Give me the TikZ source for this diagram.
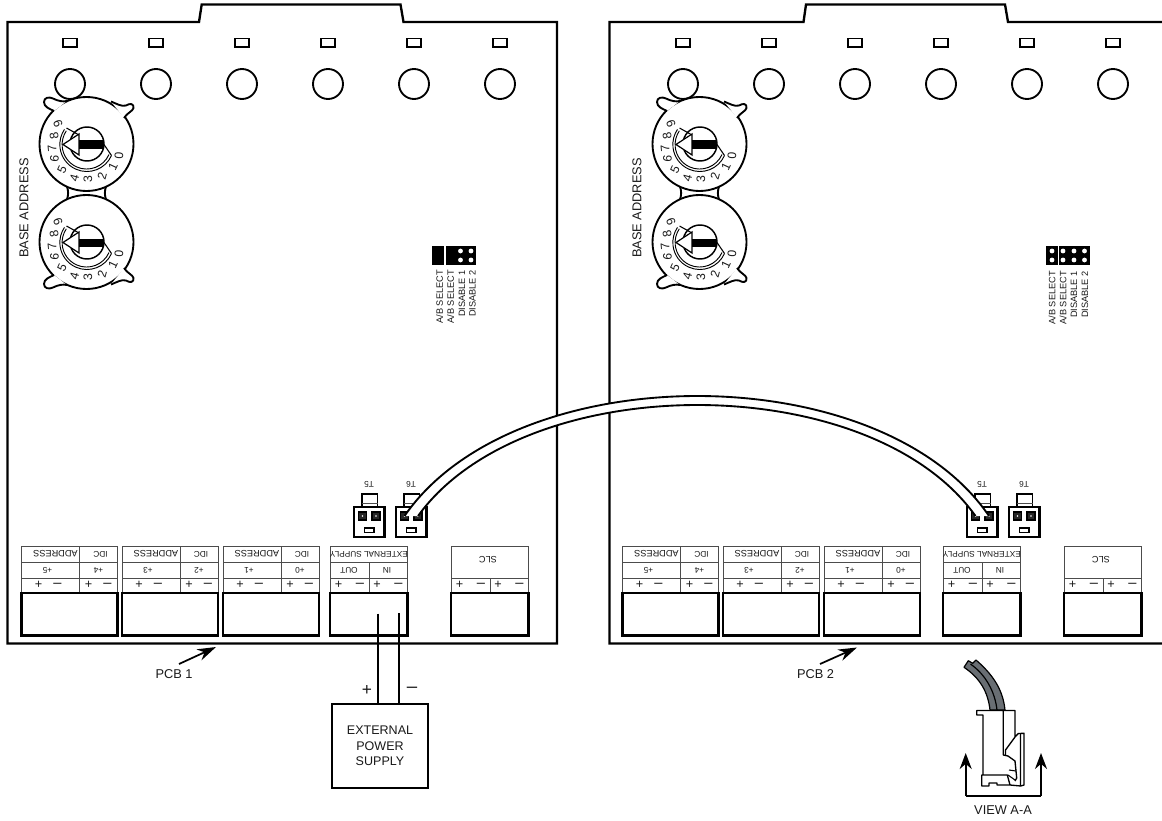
\documentclass[tikz,border=0pt]{standalone}
\usepackage{fontspec}
\setmainfont{Liberation Sans}
\usetikzlibrary{arrows.meta}
\definecolor{wiregray}{RGB}{105,110,115}
\definecolor{inkc}{RGB}{25,25,25}
\tikzset{
 heavy/.style={draw=black,line width=1.75pt,line join=miter},
 med/.style={draw=black,line width=1.4pt},
 thinl/.style={draw=black!70,line width=.65pt},
 txt/.style={inner sep=0pt,text=inkc,align=center},
 big/.style={txt,font=\fontsize{9.6}{12}\selectfont},
 addr/.style={txt,font=\fontsize{6.9}{8}\selectfont},
 smallt/.style={txt,font=\fontsize{6.2}{7}\selectfont},
 sign/.style={txt,font=\fontsize{9.5}{10}\selectfont},
 minussign/.style={txt,font=\fontsize{11}{12}\selectfont},
 jlabel/.style={txt,font=\fontsize{6.9}{8}\selectfont,rotate=90,anchor=east},
 digit/.style={txt,font=\fontsize{9.2}{10}\selectfont},
 pin/.style={draw=black,line width=.9pt,fill=black!85,minimum size=6pt,inner sep=0pt},
 jdot/.style={circle,fill=white,inner sep=0pt,minimum size=3.6pt},
 tipup/.style={-{Stealth[length=12pt,width=9pt]}},
}
% terminal block: name, x, top labels
\newcommand{\tblock}[6]{%
 \begin{scope}[shift={(#2,0)}]
 \draw[thinl] (0,546) rectangle (96,593);
 \draw[thinl] (0,562) -- (96,562) (0,578) -- (96,578);
 \draw[thinl] (58,546) -- (58,593);
 \node[addr] (#1a) at (34,554) {\rotatebox{180}{#3}};
 \node[smallt] (#1b) at (79,554) {\rotatebox{180}{#4}};
 \node[smallt] (#1c) at (26,570) {\rotatebox{180}{#5}};
 \node[smallt] (#1d) at (77,570) {\rotatebox{180}{#6}};
 \node[sign] (#1e) at (17,585) {+};
 \node[minussign] (#1f) at (36,585) {–};
 \node[sign] (#1g) at (67,585) {+};
 \node[minussign] (#1h) at (86,585) {–};
 \draw[heavy] (0,593) rectangle (96,635.5);
 \end{scope}}
\newcommand{\signrow}[1]{%
 \node[sign] (#1e) at (8.5,585) {+};
 \node[minussign] (#1f) at (30,585) {–};
 \node[sign] (#1g) at (47,585) {+};
 \node[minussign] (#1h) at (68.5,585) {–};
 \draw[heavy] (0,593) rectangle (77.5,635.5);}
% dial: name, dy
\newcommand{\dialface}[2]{%
 \begin{scope}[shift={(0,#2)}]
 \draw[med,line width=1.1pt,fill=white] (87,144) circle[radius=17];
 \draw[draw=black,line width=.7pt] (111.5,155.5) arc[start angle=24,end angle=214,radius=27];
 \draw[draw=black,line width=.7pt] (109,154.5) arc[start angle=24,end angle=214,radius=24.5];
 \draw[draw=black,line width=.8pt] (66.5,128) -- (79,135) (104,144.5) -- (111.5,155.5);
 \draw[draw=black,line width=.9pt,fill=white] (63,144.5) -- (79,134) -- (79,155) -- cycle;
 \fill[black] (79,140.5) rectangle (104,149);
 \foreach \d/\x/\y/\r in {9/58/124/110,8/54/136/100,7/52/148/95,6/54.5/159/85,5/62/170/65,4/74.5/178/75,3/88/179/90,2/102/176/75,1/113/167/65,0/119/156/85}{
  \node[digit,rotate=\r] (#1n\d) at (\x,\y) {\d};
 }
 \end{scope}}
\newcommand{\earpath}{%
 \draw[med,fill=white,line join=round] (54,111) .. controls (49,108.5) and (44,107) .. (44,102) .. controls (44,97.5) and (49,96.5) .. (53,98.5) .. controls (58,101) and (63,102) .. (67,101)
 (111,101.5) .. controls (116,103.5) and (122,107) .. (126,105.5) .. controls (130,103) and (134,103.5) .. (133.5,108) .. controls (133,111) and (127,113) .. (124,118);}
\newcommand{\board}[3]{% prefix, block offset, parts offset
 \tblock{#1bk}{#2+21.5}{ADDRESS}{IDC}{+5}{+4}
 \tblock{#1bl}{#2+122}{ADDRESS}{IDC}{+3}{+2}
 \tblock{#1bm}{#2+223}{ADDRESS}{IDC}{+1}{+0}
 \begin{scope}[shift={(#3,0)}]
  \foreach \x/\i in {70/a,156/b,242/c,328/d,414/e,500/f}{
   \draw[med] (\x-7,38.5) rectangle (\x+7,47);
   \draw[med] (\x,84) circle[radius=15];
  }
  % dials
  \draw[med,fill=white] (86.5,144) circle[radius=47];
  \draw[med,fill=white] (86.5,242) circle[radius=47];
  \earpath
  \begin{scope}[shift={(0,386)},yscale=-1]\earpath\end{scope}
  \draw[med] (67,186.5) .. controls (68.5,191) and (68.5,195) .. (67,199.5) (106,186.5) .. controls (104.5,191) and (104.5,195) .. (106,199.5);
  \dialface{#1up}{0}
  \dialface{#1lo}{98}
  \node[big,rotate=90] (#1base) at (24,208) {BASE ADDRESS};
  % T5, T6
  \foreach \x/\n in {354/5,396/6}{
   \draw[med,line width=1.2pt] (\x+8,494) rectangle (\x+23.5,507);
   \draw[thinl] (\x+8,503.5) -- (\x+23.5,503.5);
   \draw[heavy,fill=white] (\x,507) rectangle (\x+30.5,537);
   \draw[draw=black,line width=.8pt] (\x+10.5,528) rectangle (\x+20,532.5);
   \node[smallt] (#1t\n) at (\x+15,484) {\rotatebox{180}{T\n}};
   \node[pin] (#1t\n a) at (\x+8.5,516) {};
   \node[pin] (#1t\n b) at (\x+22,516) {};
   \node[circle,fill=white,inner sep=0pt,minimum size=1.4pt] (#1t\n c) at (\x+8.5,516) {};
   \node[circle,fill=white,inner sep=0pt,minimum size=1.4pt] (#1t\n d) at (\x+22,516) {};
  }
  % external supply
  \begin{scope}[shift={(330,0)}]
   \draw[thinl] (0,546) rectangle (77.5,593);
   \draw[thinl] (0,562) -- (77.5,562) (0,578) -- (77.5,578);
   \draw[thinl] (39,562) -- (39,593);
   \node[smallt] (#1exs) at (38.8,554) {\rotatebox{180}{EXTERNAL SUPPLY}};
   \node[smallt] (#1out) at (19,570) {\rotatebox{180}{OUT}};
   \node[smallt] (#1in) at (57,570) {\rotatebox{180}{IN}};
   \signrow{#1x}
  \end{scope}
  % SLC
  \begin{scope}[shift={(451,0)}]
   \draw[thinl] (0,546) rectangle (77,593);
   \draw[thinl] (0,578) -- (77,578) (39,578) -- (39,593);
   \node[addr] (#1slc) at (37,560) {\rotatebox{180}{SLC}};
   \signrow{#1s}
  \end{scope}
 \end{scope}}
\begin{document}
\begin{tikzpicture}[x=0.75pt,y=-0.75pt]
\useasboundingbox (0,0) rectangle (1162,820);
\fill[white] (0,0) rectangle (1162,820);
% board outlines
\draw[heavy] (7.5,22) -- (199,22) -- (201.7,4.5) -- (400.5,4.5) -- (403.5,22) -- (557,22) -- (557,643.5) -- (7.5,643.5) -- cycle;
\draw[heavy] (1162,22) -- (1008,22) -- (1005,4.5) -- (806,4.5) -- (803.5,22) -- (609.5,22) -- (609.5,643.5) -- (1162,643.5);
\board{p}{0}{0}
\board{q}{601}{613}
% jumpers PCB 1
\fill[black] (432,246) rectangle (444,265);
\fill[black] (445.5,246) rectangle (455.5,265);
\fill[black] (456,246) rectangle (476,265);
\foreach \x/\y/\n in {460.5/251/a,471/251/b,460.5/260/c,471/260/d}{\node[jdot] (pj\n) at (\x,\y) {};}
\node[jlabel] (pl1) at (439.5,270) {A/B SELECT};
\node[jlabel] (pl2) at (450.5,270) {A/B SELECT};
\node[jlabel] (pl3) at (462,270) {DISABLE 1};
\node[jlabel] (pl4) at (472.5,270) {DISABLE 2};
% jumpers PCB 2
\fill[black] (1046,246) rectangle (1057.5,265);
\fill[black] (1058.5,246) rectangle (1089.5,265);
\foreach \x/\y/\n in {1052/251/a,1063/251/b,1074/251/c,1084.5/251/d,1052/260/e,1063/260/f,1074/260/g,1084.5/260/h}{\node[jdot] (qj\n) at (\x,\y) {};}
\node[jlabel] (ql1) at (1052,271) {A/B SELECT};
\node[jlabel] (ql2) at (1063,271) {A/B SELECT};
\node[jlabel] (ql3) at (1074,271) {DISABLE 1};
\node[jlabel] (ql4) at (1085,271) {DISABLE 2};
% cable
\fill[white] (pt6a.center) .. controls (515,356) and (880,356) .. (qt5b.center) -- (qt5a.center) .. controls (870,368) and (525,368) .. (pt6b.center) -- cycle;
\draw[med] (pt6a.center) .. controls (515,356) and (880,356) .. (qt5b.center);
\draw[med] (pt6b.center) .. controls (525,368) and (870,368) .. (qt5a.center);
% PCB labels
\coordinate (pa1) at (179,664);\coordinate (pa2) at (216,647);
\coordinate (qa1) at (820,664);\coordinate (qa2) at (857,647.5);
\draw[line width=1.3pt,-{Stealth[length=14pt,width=9pt]}] (pa1) -- (pa2);
\draw[line width=1.3pt,-{Stealth[length=14pt,width=9pt]}] (qa1) -- (qa2);
\node[big] (pcb1) at (174,674) {PCB 1};
\node[big] (pcb2) at (815.5,674) {PCB 2};
% external power supply
\node[draw=black,line width=1.4pt,minimum width=72pt,minimum height=63pt,inner sep=0pt,font=\fontsize{9.4}{11.6}\selectfont,text=inkc,align=center] (eps) at (380,746) {EXTERNAL\\POWER\\SUPPLY};
\coordinate (w1) at (378,613.5);\coordinate (w2) at (399,613);
\draw[med] (w1) -- (w1 |- eps.north);
\draw[med] (w2) -- (w2 |- eps.north);
\node[txt,font=\fontsize{13}{14}\selectfont] (plus) at (367,690) {+};
\node[txt,font=\fontsize{14}{15}\selectfont] (minus) at (412,690) {–};
% view A-A
\draw[line width=.9pt,fill=wiregray,line join=round] (964,667.3) -- (968.3,660.7) -- (972.7,663.3) -- (976,660) .. controls (993.3,675) and (1003,690) .. (1005,710) -- (990,710) .. controls (988,692) and (980,678) .. (964,667.3) -- cycle;
\draw[line width=.9pt] (970.5,664) .. controls (986,675) and (995,692) .. (997,710);
\draw[draw=black,line width=1pt,line join=round] (983,775) -- (983,715) -- (976.7,715) -- (976.7,710.5) -- (1015,710.5) -- (1015,737) -- (1005.5,750) -- (1005.5,755) (1003.3,710.5) -- (1003.3,755) -- (1008,756) -- (1015,761) -- (1016.7,778) -- (1015,781) (1015,737) -- (1018.3,733.5) -- (1024,733.3) -- (1024,785) -- (1020.7,786) -- (1010,785) -- (1007.3,775) -- (981.7,775) -- (981.7,786) -- (989,786) -- (989,783) -- (997,783) -- (997,785) -- (1010,785);
\draw[draw=black,line width=.8pt] (1009,770) -- (1016,771) (1008,775) -- (1015,780) (1020.5,733.5) -- (1020.5,786);
\coordinate (vl) at (965.7,753);\coordinate (vr) at (1041,753);\coordinate (vb1) at (965.7,796);\coordinate (vb2) at (1041,796);
\draw[line width=1.4pt,tipup] (vb1) -- (vl);
\draw[line width=1.4pt,tipup] (vb2) -- (vr);
\draw[line width=1.4pt] (vb1) -- (vb2);
\node[txt,font=\fontsize{9.6}{11}\selectfont] (view) at (1003,810) {VIEW A-A};
\end{tikzpicture}
\end{document}
